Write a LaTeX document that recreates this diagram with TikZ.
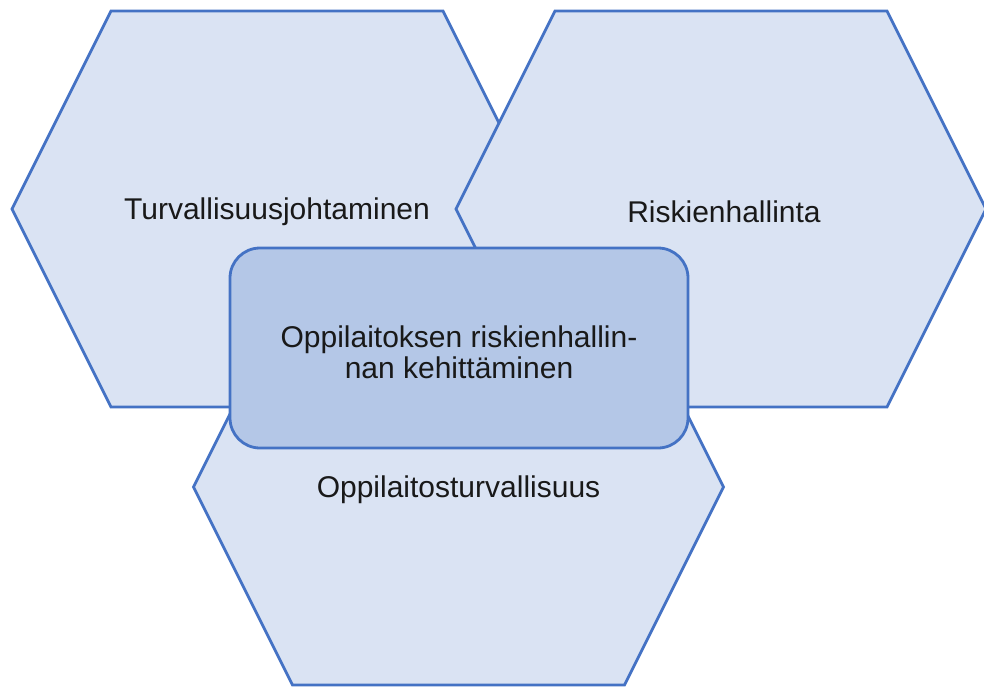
\documentclass[tikz,border=0pt]{standalone}
\usepackage{fontspec}
\setmainfont{Liberation Sans}
\usetikzlibrary{positioning}

\definecolor{hexfill}{HTML}{DAE3F3}
\definecolor{hexline}{HTML}{4472C4}
\definecolor{corefill}{HTML}{B4C7E7}

\begin{document}
\begin{tikzpicture}[x=1pt,y=-1pt,
    hexa/.style={draw=hexline,fill=hexfill,line width=2.8pt,line join=miter},
    core/.style={draw=hexline,fill=corefill,line width=2.8pt,rounded corners=30pt,
      minimum width=458pt,minimum height=200pt,inner sep=0pt,align=center},
    label/.style={font=\fontsize{30}{31}\selectfont,text=black!90}]
      \useasboundingbox (0,0) rectangle (984,686);

      % the three hexagons: left, right, bottom
      \foreach \cx/\cy in {277/209, 721/209, 458.5/487}
        \draw[hexa] ({\cx-265},\cy) -- ({\cx-166},{\cy-198}) -- ({\cx+166},{\cy-198})
          -- ({\cx+265},\cy) -- ({\cx+166},{\cy+198}) -- ({\cx-166},{\cy+198}) -- cycle;

      \node[label] (turv) at (277,212) {Turvallisuusjohtaminen};
      \node[label] (risk) at (724,212) {Riskienhallinta};
      \node[label] (oppi) at (458.5,490) {Oppilaitosturvallisuus};

      \node[core,label] (kehi) at (459,348) {};
      \node[label,align=center] (kehitext) at (459,352) {Oppilaitoksen riskienhallin-\\nan kehittäminen};
    \end{tikzpicture}
\end{document}
